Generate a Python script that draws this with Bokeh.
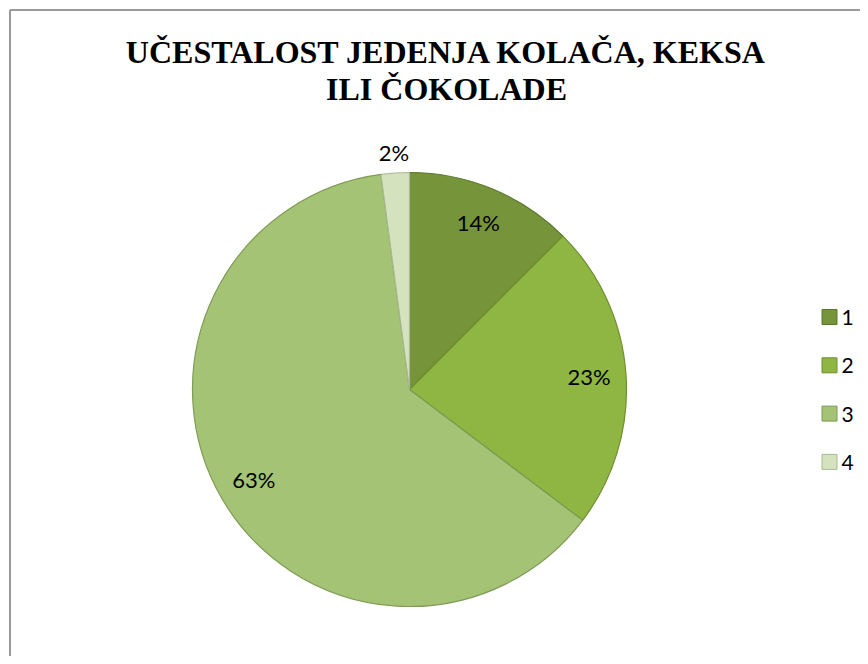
import math
from bokeh.plotting import figure
from bokeh.models import Range1d, ColumnDataSource
from bokeh.core.properties import value
from bokeh.embed import file_html
from bokeh.resources import INLINE

# ---- data ----
categories = ["1", "2", "3", "4"]
shares = [12.5, 22.8, 62.6, 2.1]          # slice sizes
label_texts = ["14%", "23%", "63%", "2%"]  # data labels as printed
colors = ["#76943A", "#8FB542", "#A4C374", "#D4E3BE"]
edge_colors = ["#5C7629", "#6F8F2E", "#7F9B55", "#A9B994"]
title_lines = ["UČESTALOST JEDENJA KOLAČA, KEKSA", "ILI ČOKOLADE"]

# ---- canvas: data units == pixels, y measured upward ----
W, H = 860, 656
TOP = 656


def Y(ys):
    return TOP - ys


p = figure(width=W, height=H, x_range=Range1d(0, W), y_range=Range1d(0, H),
           output_backend="svg", toolbar_location=None, tools="", min_border=0)
p.axis.visible = False
p.grid.visible = False
p.outline_line_color = None
p.background_fill_color = "white"
p.border_fill_color = "white"

# chart-area border (only left and top visible in the crop)
p.segment(x0=[9.5, 9.5], y0=[Y(9.5), Y(9.5)], x1=[9.5, 900], y1=[Y(700), Y(9.5)],
          line_color="#9A9A9A", line_width=2)

# ---- pie ----
cx, cy, r = 409, Y(389), 217
total = sum(shares)
starts, ends, mids = [], [], []
c = 0.0
for s in shares:
    a0 = math.pi / 2 - 2 * math.pi * c / total
    c += s
    a1 = math.pi / 2 - 2 * math.pi * c / total
    starts.append(a0)
    ends.append(a1)
    mids.append((a0 + a1) / 2)

src = ColumnDataSource(dict(start=starts, end=ends, color=colors, edge=edge_colors))
p.wedge(x=cx, y=cy, radius=r, start_angle="start", end_angle="end", direction="clock",
        fill_color="color", line_color="edge", line_width=1.2, source=src)

# data labels (centred on the label point)
lx, ly = [], []
for s, m in zip(shares, mids):
    rr = r * 0.83 if s / total > 0.05 else r + 20
    lx.append(cx + rr * math.cos(m))
    ly.append(cy + rr * math.sin(m) + 0.5)
p.text(x=lx, y=ly, text=label_texts, text_align="center", text_baseline="alphabetic",
       text_font=value("Lato"), text_font_size="22px", text_color="black")

# ---- legend (drawn manually) ----
leg_x = 829
leg_y0 = 316.5
leg_step = 48.3
sq_y = [Y(leg_y0 + i * leg_step) for i in range(len(categories))]
p.rect(x=[leg_x] * len(categories), y=sq_y, width=15, height=15,
       fill_color=colors, line_color=edge_colors, line_width=1)
p.text(x=[leg_x + 12] * len(categories), y=[v - 0.5 for v in sq_y], text=categories,
       text_align="left", text_baseline="alphabetic",
       text_font=value("Lato"), text_font_size="21px", text_color="black")

# ---- title ----
p.text(x=[446, 446], y=[Y(51), Y(88)], text=title_lines, text_align="center",
       text_baseline="alphabetic", text_font=value("Liberation Serif"),
       text_font_style="bold", text_font_size="32px", text_color="black")

open("out.html", "w").write(file_html(p, INLINE))
